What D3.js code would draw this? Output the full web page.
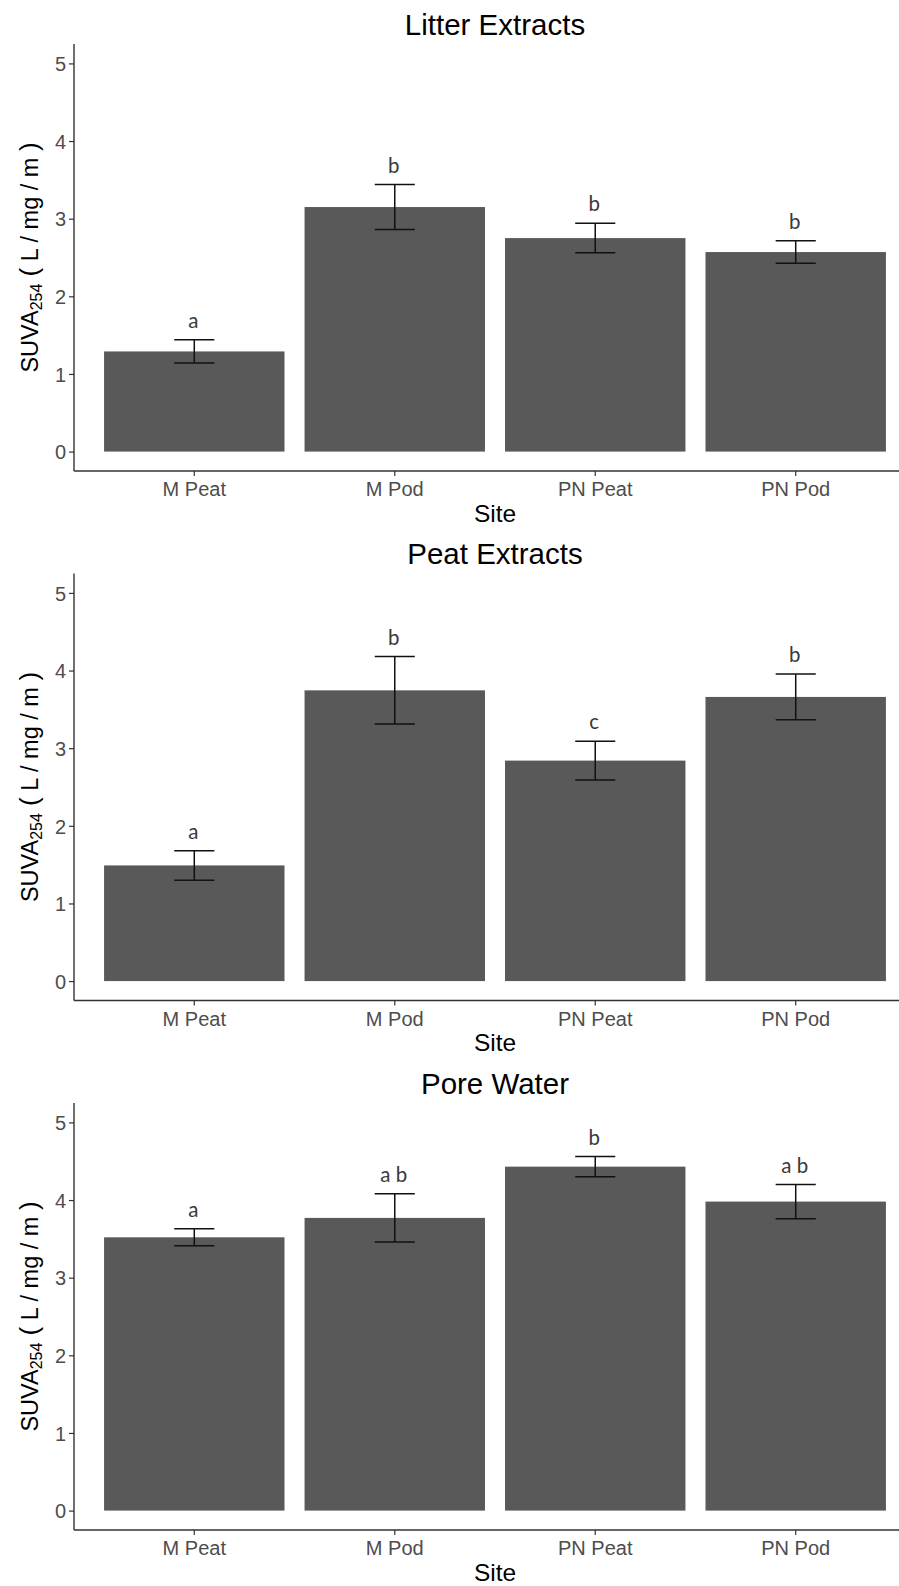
<!DOCTYPE html>
<html>
<head>
<meta charset="utf-8">
<script src="https://cdn.jsdelivr.net/npm/d3@7"></script>
<style>
  body { margin: 0; background: #fff; }
  svg { display: block; }
</style>
</head>
<body>
<svg width="899" height="1586"></svg>
<script>
const categories = ["M Peat", "M Pod", "PN Peat", "PN Pod"];
const yTicks = [0, 1, 2, 3, 4, 5];

const litterMeans = [1.29, 3.15, 2.75, 2.57];
const litterSE = [0.15, 0.29, 0.19, 0.145];
const litterLetters = ["a", "b", "b", "b"];

const peatMeans = [1.49, 3.745, 2.84, 3.66];
const peatSE = [0.19, 0.435, 0.25, 0.295];
const peatLetters = ["a", "b", "c", "b"];

const poreMeans = [3.52, 3.77, 4.43, 3.98];
const poreSE = [0.11, 0.31, 0.13, 0.22];
const poreLetters = ["a", "a b", "b", "a b"];

const panels = [
  { title: "Litter Extracts", means: litterMeans, se: litterSE, letters: litterLetters, top: 44 },
  { title: "Peat Extracts", means: peatMeans, se: peatSE, letters: peatLetters, top: 573.5 },
  { title: "Pore Water", means: poreMeans, se: poreSE, letters: poreLetters, top: 1103 }
];

const svg = d3.select("svg");
const left = 74;
const right = 916;
const panelHeight = 427;
const font = "'Liberation Sans', Arial, sans-serif";

const xScale = d3
  .scaleBand()
  .domain(categories)
  .range([left, right])
  .paddingInner(0.1)
  .paddingOuter(0.15);

const render = (p) => {
  const g = svg.append("g");
  const bottom = p.top + panelHeight;
  const yScale = d3.scaleLinear().domain([-0.25, 5.25]).range([bottom, p.top]);
  const data = categories.map((c, i) => ({
    cat: c,
    mean: p.means[i],
    se: p.se[i],
    letter: p.letters[i]
  }));

  // bars
  g.selectAll("rect.bar")
    .data(data)
    .enter()
    .append("rect")
    .attr("class", "bar")
    .attr("x", (d) => xScale(d.cat))
    .attr("width", xScale.bandwidth())
    .attr("y", (d) => yScale(d.mean))
    .attr("height", (d) => yScale(0) - yScale(d.mean))
    .attr("fill", "#595959");

  // error bars
  const capW = xScale.step() * 0.1;
  const cx = (d) => xScale(d.cat) + xScale.bandwidth() / 2;
  const eb = g.selectAll("g.err").data(data).enter().append("g")
    .attr("stroke", "#111")
    .attr("stroke-width", 1.5)
    .attr("fill", "none");
  eb.append("line")
    .attr("x1", cx).attr("x2", cx)
    .attr("y1", (d) => yScale(d.mean + d.se))
    .attr("y2", (d) => yScale(d.mean - d.se));
  eb.append("line")
    .attr("x1", (d) => cx(d) - capW).attr("x2", (d) => cx(d) + capW)
    .attr("y1", (d) => yScale(d.mean + d.se))
    .attr("y2", (d) => yScale(d.mean + d.se));
  eb.append("line")
    .attr("x1", (d) => cx(d) - capW).attr("x2", (d) => cx(d) + capW)
    .attr("y1", (d) => yScale(d.mean - d.se))
    .attr("y2", (d) => yScale(d.mean - d.se));

  // significance letters
  g.selectAll("text.letter")
    .data(data)
    .enter()
    .append("text")
    .attr("x", (d) => cx(d) - 1)
    .attr("y", (d) => yScale(d.mean + d.se) - 12)
    .attr("text-anchor", "middle")
    .attr("font-family", "Lato, 'Open Sans', sans-serif")
    .attr("font-size", 20.5)
    .attr("fill", "#3a3a3a")
    .text((d) => d.letter);

  // axes
  const yAxis = g.append("g")
    .attr("transform", `translate(${left},0)`)
    .call(d3.axisLeft(yScale).tickValues(yTicks).tickFormat(d3.format("d"))
      .tickSize(5).tickPadding(3).tickSizeOuter(0));
  yAxis.select(".domain").remove();
  g.append("line")
    .attr("x1", left).attr("x2", left)
    .attr("y1", p.top).attr("y2", bottom)
    .attr("stroke", "#333").attr("stroke-width", 1.4);

  const xAxis = g.append("g")
    .attr("transform", `translate(0,${bottom})`)
    .call(d3.axisBottom(xScale).tickSize(5).tickPadding(6).tickSizeOuter(0));
  xAxis.select(".domain").remove();
  g.append("line")
    .attr("x1", left).attr("x2", right)
    .attr("y1", bottom).attr("y2", bottom)
    .attr("stroke", "#333").attr("stroke-width", 1.4);

  [yAxis, xAxis].forEach((a) => {
    a.selectAll(".tick line").attr("stroke", "#333").attr("stroke-width", 1.2);
    a.selectAll(".tick text")
      .attr("fill", "#4d4d4d")
      .attr("font-family", font)
      .attr("font-size", 20);
  });
  yAxis.selectAll(".tick text").attr("dy", "0.36em");

  // titles
  g.append("text")
    .attr("x", (left + right) / 2)
    .attr("y", p.top - 9.5)
    .attr("text-anchor", "middle")
    .attr("font-family", font)
    .attr("font-size", 29.5)
    .attr("fill", "#000")
    .text(p.title);

  g.append("text")
    .attr("x", (left + right) / 2)
    .attr("y", bottom + 50.5)
    .attr("text-anchor", "middle")
    .attr("font-family", font)
    .attr("font-size", 24.5)
    .attr("fill", "#000")
    .text("Site");

  const yl = g.append("text")
    .attr("transform", `translate(38,${p.top + panelHeight / 2}) rotate(-90)`)
    .attr("text-anchor", "middle")
    .attr("font-family", font)
    .attr("font-size", 23.5)
    .attr("fill", "#000");
  yl.append("tspan").text("SUVA");
  yl.append("tspan").attr("font-size", 16).attr("dy", 4).text("254");
  yl.append("tspan").attr("dy", -4).attr("font-size", 26).text(" (");
  yl.append("tspan").text(" L / mg / m ");
  yl.append("tspan").attr("font-size", 26).text(")");
};

panels.forEach(render);
</script>
</body>
</html>
